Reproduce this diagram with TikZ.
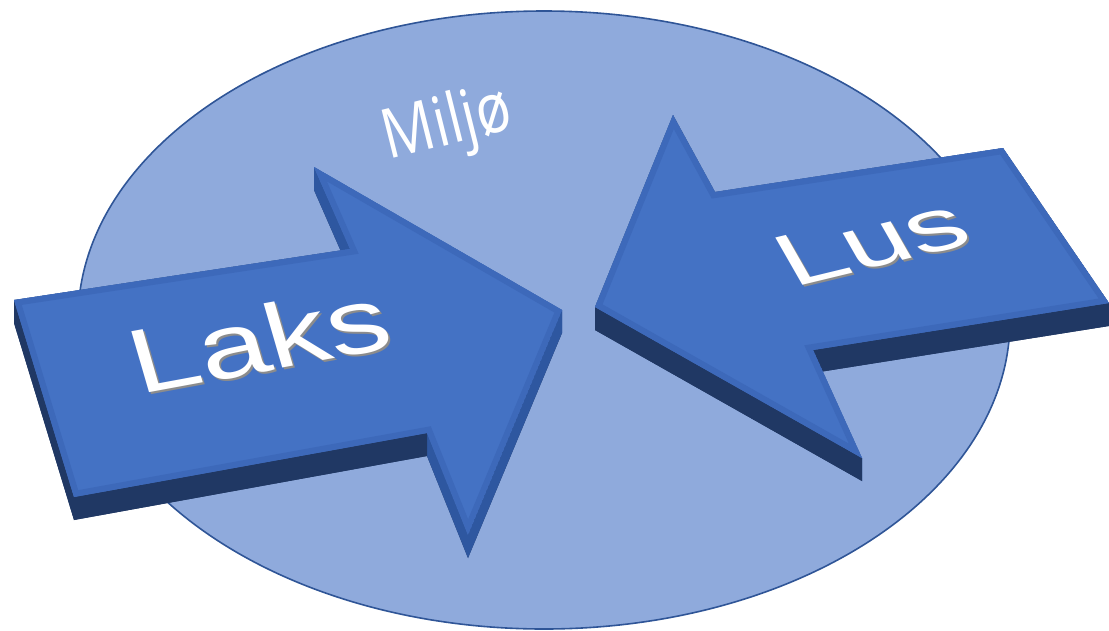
\documentclass[tikz,border=0pt]{standalone}
\usepackage{fontspec}
\setmainfont{Liberation Sans}
\newfontfamily\miljofont{Open Sans}
\usetikzlibrary{calc,shapes.geometric}
\definecolor{cEllFill}{HTML}{8FAADC}
\definecolor{cEllDraw}{HTML}{2F5597}
\definecolor{cTop}{HTML}{4472C4}
\definecolor{cSide}{HTML}{203864}
\definecolor{cSideMid}{HTML}{2E57A0}
\definecolor{cBevel}{HTML}{3D69BA}
\definecolor{cShadow}{HTML}{8C8C8C}
\newcommand{\sweep}[3]{\fill[#3] (#1) -- (#2) -- ($(#2)+(0,23)$) -- ($(#1)+(0,23)$) -- cycle;}
\begin{document}
\begin{tikzpicture}[x=1pt,y=-1pt,
  envnode/.style={ellipse, draw=cEllDraw, line width=1.6pt, fill=cEllFill, inner sep=0pt, minimum width=932pt, minimum height=618pt},
  lbltext/.style={text=white, inner sep=0pt, anchor=base},
  lblshadow/.style={text=cShadow, inner sep=0pt, anchor=base},
  bigfont/.style={font=\fontsize{124}{124}\selectfont},
  lusfont/.style={font=\fontsize{117}{117}\selectfont}
]
\useasboundingbox (0,0) rectangle (1109,630);
\node[envnode] (env) at (544,320) {};
\node[lbltext, rotate=14, xscale=0.84, font=\miljofont\fontsize{69}{69}\selectfont] (miljo) at (452,144) {Miljø};

% Laks arrow
\coordinate (l1) at (14,300);
\coordinate (l2) at (350,249);
\coordinate (l3) at (314,167);
\coordinate (l4) at (562,310);
\coordinate (l5) at (468,535);
\coordinate (l6) at (427,433);
\coordinate (l7) at (74,497);
\fill[cSide] ($(l1)+(0,23)$) -- ($(l2)+(0,23)$) -- ($(l3)+(0,23)$) -- ($(l4)+(0,23)$) -- ($(l5)+(0,23)$) -- ($(l6)+(0,23)$) -- ($(l7)+(0,23)$) -- cycle;
\sweep{l1}{l2}{cSide}
\sweep{l2}{l3}{cSideMid}
\sweep{l3}{l4}{cSideMid}
\sweep{l4}{l5}{cSideMid}
\sweep{l5}{l6}{cSideMid}
\sweep{l6}{l7}{cSide}
\sweep{l7}{l1}{cSide}
\begin{scope}
\clip (l1) -- (l2) -- (l3) -- (l4) -- (l5) -- (l6) -- (l7) -- cycle;
\fill[cTop] (l1) -- (l2) -- (l3) -- (l4) -- (l5) -- (l6) -- (l7) -- cycle;
\draw[cBevel, line width=12pt, line join=miter] (l1) -- (l2) -- (l3) -- (l4) -- (l5) -- (l6) -- (l7) -- cycle;
\end{scope}

% Lus arrow
\coordinate (r1) at (595,307);
\coordinate (r2) at (673,115);
\coordinate (r3) at (715,192);
\coordinate (r4) at (1003,148);
\coordinate (r5) at (1109,303);
\coordinate (r6) at (813,350);
\coordinate (r7) at (862,458);
\fill[cSide] ($(r1)+(0,23)$) -- ($(r2)+(0,23)$) -- ($(r3)+(0,23)$) -- ($(r4)+(0,23)$) -- ($(r5)+(0,23)$) -- ($(r6)+(0,23)$) -- ($(r7)+(0,23)$) -- cycle;
\sweep{r1}{r2}{cSide}
\sweep{r2}{r3}{cSide}
\sweep{r3}{r4}{cSide}
\sweep{r4}{r5}{cSide}
\sweep{r5}{r6}{cSide}
\sweep{r6}{r7}{cSideMid}
\sweep{r7}{r1}{cSide}
\begin{scope}
\clip (r1) -- (r2) -- (r3) -- (r4) -- (r5) -- (r6) -- (r7) -- cycle;
\fill[cTop] (r1) -- (r2) -- (r3) -- (r4) -- (r5) -- (r6) -- (r7) -- cycle;
\draw[cBevel, line width=12pt, line join=miter] (r1) -- (r2) -- (r3) -- (r4) -- (r5) -- (r6) -- (r7) -- cycle;
\end{scope}

% labels
\node[lblshadow, bigfont, rotate=10.5, xslant=-0.1, yscale=0.74] (laksshadow) at (270,373) {Laks};
\node[lbltext, bigfont, rotate=10.5, xslant=-0.1, yscale=0.74] (laks) at (268,371) {Laks};
\node[lblshadow, lusfont, rotate=13.6, xslant=-0.29, yscale=0.65] (lusshadow) at (887,267) {Lus};
\node[lbltext, lusfont, rotate=13.6, xslant=-0.29, yscale=0.65] (lus) at (885,265) {Lus};
\end{tikzpicture}
\end{document}
